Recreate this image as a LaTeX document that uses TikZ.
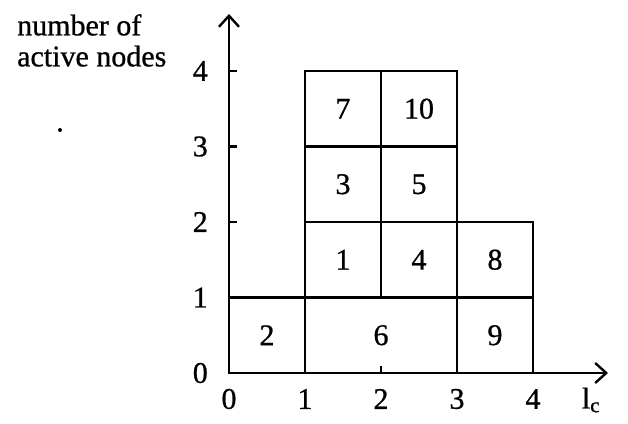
\documentclass[tikz,border=0pt]{standalone}
\usepackage{fontspec}
\setmainfont[FakeBold=0.8,AutoFakeBold=0.8]{Liberation Serif}
\usetikzlibrary{arrows.meta}
\begin{document}
\begin{tikzpicture}[x=76pt,y=75.5pt,
  ln/.style={line width=2.4pt},
  ax/.style={line width=2.4pt,-{Straight Barb[length=11pt,width=20pt,line width=2.4pt]}},
  num/.style={font=\fontsize{30}{32}\selectfont\bfseries,inner sep=0pt},
  cell/.style={font=\fontsize{30}{32}\selectfont\bfseries,inner sep=0pt}]
\useasboundingbox (-229pt,-50pt) rectangle (399pt,373pt);
% axes
\coordinate (O) at (0,0);
\coordinate (ytip) at (0,359pt);
\coordinate (xtip) at (379pt,0);
\draw[ax] (O) -- (ytip);
\draw[ax] (O) -- (xtip);
% y ticks
\foreach \k in {1,2,3,4}{
  \coordinate (yt\k) at (0,\k);
  \draw[ln] (yt\k) -- ++(8pt,0);
  \node[num,anchor=east] (yl\k) at (-21pt,\k) {\k};
}
\node[num,anchor=east] (yl0) at (-21pt,0) {0};
\coordinate (xt2) at (2,0);
\draw[ln] (xt2) -- ++(0,7pt);
\foreach \k in {0,1,2,3,4}{
  \node[num] (xl\k) at (\k,-26pt) {\k};
}
\node[num] (lc) at (362pt,-27pt) {l$_{\mathrm{c}}$};
% boxes
\draw[ln] (0,0) rectangle (4,1);
\draw[ln] (1,0) -- (1,4) -- (3,4) -- (3,0);
\draw[ln] (1,1) rectangle (4,2);
\draw[ln] (2,1) -- (2,4);
\draw[ln] (1,3) -- (3,3);
\draw[ln] (1,2) -- (3,2);
% cell labels
\node[cell] (c2) at (0.5,0.5) {2};
\node[cell] (c6) at (2,0.5) {6};
\node[cell] (c9) at (3.5,0.5) {9};
\node[cell] (c1) at (1.5,1.5) {1};
\node[cell] (c4) at (2.5,1.5) {4};
\node[cell] (c8) at (3.5,1.5) {8};
\node[cell] (c3) at (1.5,2.5) {3};
\node[cell] (c5) at (2.5,2.5) {5};
\node[cell] (c7) at (1.5,3.5) {7};
\node[cell] (c10) at (2.5,3.5) {10};
% axis title
\node[font=\fontsize{30}{31}\selectfont\bfseries,align=left,anchor=north west,inner sep=0pt] (ttl) at (-212pt,359pt) {number of\\active nodes};
% stray speck
\fill (-169pt,243pt) circle (2pt);
\end{tikzpicture}
\end{document}
